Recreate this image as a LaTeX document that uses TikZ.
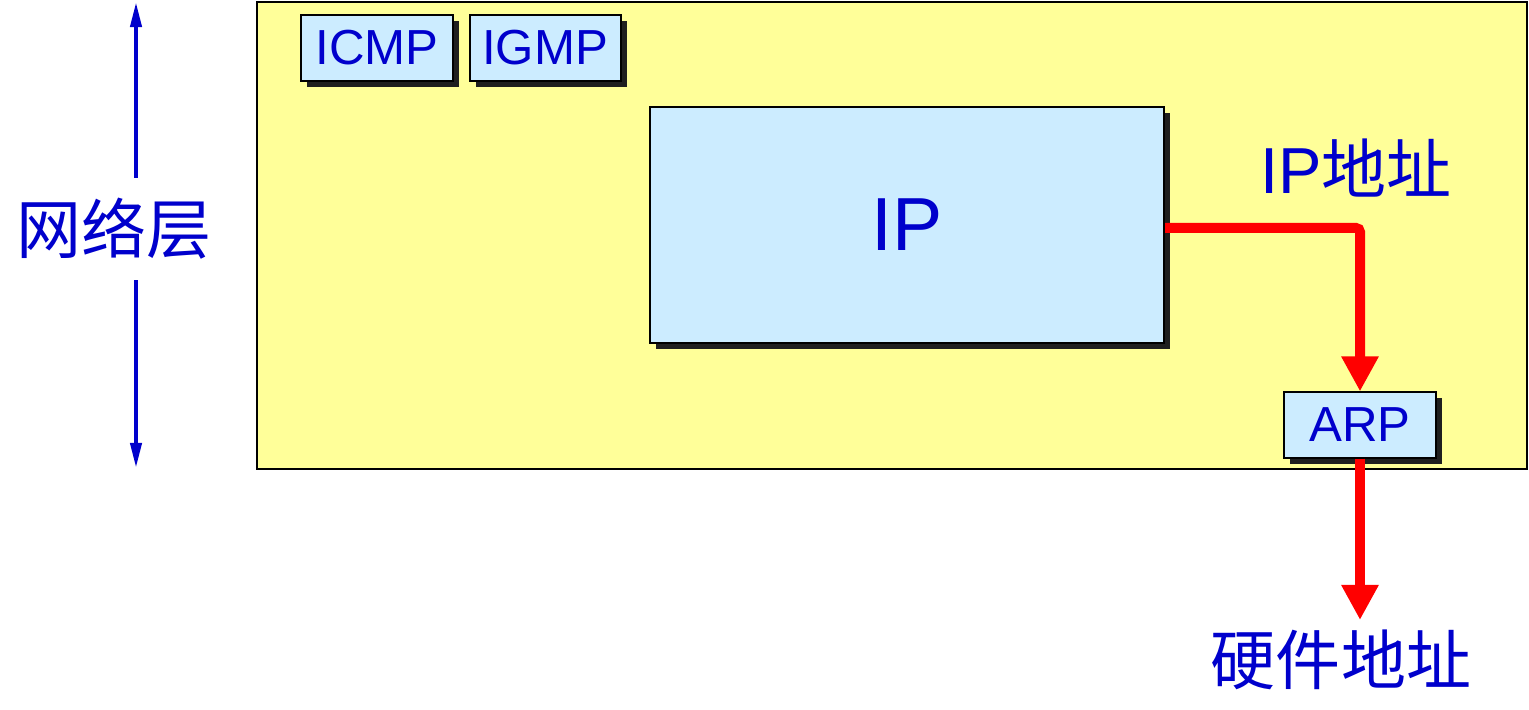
\documentclass[tikz,border=0pt]{standalone}
\usepackage{fontspec}
\setmainfont{Liberation Sans}
\newfontfamily\cjk{Noto Sans CJK SC}
\usetikzlibrary{arrows.meta,positioning,shadows}
\definecolor{layeryellow}{HTML}{FFFF99}
\definecolor{boxblue}{HTML}{CCECFF}
\definecolor{textblue}{HTML}{0000CC}
\definecolor{shadowgray}{HTML}{1F1F1F}
\begin{document}
\begin{tikzpicture}[x=0.01cm,y=-0.01cm,
    proto node/.style={rectangle,draw=black,line width=0.02cm,fill=boxblue,text=textblue,inner sep=0pt,
      general shadow={fill=shadowgray,draw=none,shadow xshift=0.06cm,shadow yshift=-0.06cm}},
    small node/.style={proto node,minimum width=1.51cm,minimum height=0.65cm,font=\fontsize{14}{16}\selectfont},
    label node/.style={text=textblue,font=\fontsize{18.5}{20}\selectfont},
    red arrow/.style={draw=red,line width=0.1cm,-{Triangle[length=0.35cm,width=0.35cm]}},
    blue arrow/.style={draw=textblue,line width=0.04cm,-{Triangle[length=0.25cm,width=0.11cm]}}]
  \useasboundingbox (0,0) rectangle (1529,710);
  % network layer
  \draw[fill=layeryellow,line width=0.02cm] (257,2) rectangle (1527,469);
  \node[small node] (icmp) at (377,48) {ICMP};
  \node[small node,right=0.15cm of icmp] (igmp) {IGMP};
  \node[proto node,minimum width=5.14cm,minimum height=2.36cm,font=\fontsize{21.4}{24}\selectfont] (ip) at (907,225) {IP};
  \node[small node] (arp) at (1360,425) {ARP};
  % labels
  \node[label node] (ipaddr) at (1356,168) {IP{\cjk 地址}};
  \node[label node] (hwaddr) at (1341,660) {\cjk 硬件地址};
  \node[label node,inner sep=0.2cm] (layer) at (114,229) {\cjk 网络层};
  % arrows
  \coordinate (hwtip) at (1360,620);
  \draw[red arrow,rounded corners=0.04cm] ([yshift=-0.03cm]ip.east) -| (arp.north);
  \draw[red arrow] (arp.south) -- (hwtip);
  \coordinate (top) at (136,2);
  \coordinate (bottom) at (136,468);
  \draw[blue arrow] (top |- layer.north) -- (top);
  \draw[blue arrow] (bottom |- layer.south) -- (bottom);
\end{tikzpicture}
\end{document}
